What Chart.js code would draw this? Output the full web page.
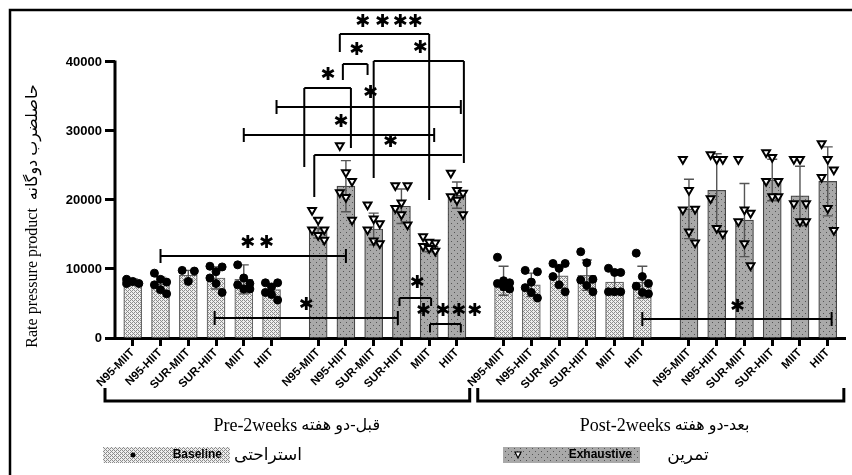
<!DOCTYPE html>
<html>
<head>
<meta charset="utf-8">
<script src="https://cdn.jsdelivr.net/npm/chart.js@4.4.1/dist/chart.umd.min.js"></script>
<style>
  html, body { margin: 0; padding: 0; background: #fff; }
  #wrap { width: 852px; height: 475px; }
</style>
</head>
<body>
<div id="wrap"><canvas id="chart"></canvas></div>
<script>
// DATA
const categories = ['N95-MIIT', 'N95-HIIT', 'SUR-MIIT', 'SUR-HIIT', 'MIIT', 'HIIT'];
const yTicks = [0, 10000, 20000, 30000, 40000];

const preBaseMean = [8100, 7800, 9100, 8700, 8500, 7000];
const preBaseSD = [450, 1000, 700, 1600, 2100, 800];
const preExhMean = [15900, 22000, 15800, 19100, 13300, 20700];
const preExhSD = [1400, 3700, 2300, 2500, 800, 1900];
const postBaseMean = [8300, 7700, 9000, 9100, 8100, 8100];
const postBaseSD = [2100, 1700, 1300, 2200, 1800, 2300];
const postExhMean = [18700, 21400, 17100, 22900, 20600, 22700];
const postExhSD = [4300, 5300, 5300, 3000, 4300, 5000];

const preBasePts = [
    [8500, 8200, 7900, 7900],
    [9400, 8500, 8100, 7700, 7000, 6400],
    [9800, 8200, 9700],
    [10400, 9600, 10300, 8700, 7900, 6600],
    [10600, 8700, 7900, 7700, 7100, 7100],
    [8000, 7400, 8000, 6600, 6300, 5500]
];
const preExhPts = [
    [18500, 17100, 15700, 15700, 14900, 14200],
    [27900, 24000, 22700, 21100, 20400, 17100],
    [19300, 17300, 16600, 15700, 14100, 13700],
    [22100, 19600, 22100, 18800, 17900, 16400],
    [14700, 13900, 13800, 13300, 13000, 12600],
    [23900, 21400, 21000, 20500, 20000, 17900]
];
const postBasePts = [
    [11700, 8300, 8000, 7900, 7400, 7100],
    [9800, 8100, 9600, 7300, 6600, 5800],
    [10800, 10100, 10800, 8900, 7700, 6700],
    [12500, 10900, 8500, 8400, 7600, 6700],
    [10100, 9500, 9500, 6700, 6700, 6700],
    [12300, 8900, 7900, 7500, 6600, 6400]
];
const postExhPts = [
    [25900, 21400, 18700, 18600, 15400, 13800],
    [26600, 25900, 25900, 20200, 15900, 15100],
    [25900, 18600, 18100, 16900, 13700, 10500],
    [26900, 26200, 22700, 22700, 20500, 20500],
    [25900, 25900, 19500, 19500, 16900, 16900],
    [28200, 25900, 24400, 23300, 18800, 15600]
];

// significance marks, in axis units (x = bar slot, y = value)
const brackets = [
    { cap: true, x1: 1.0, x2: 7.68, y: 11900, stars: [4.14, 4.82], sy: 13770 },
    { cap: true, x1: 2.95, x2: 9.55, y: 2900, stars: [6.25], sy: 4780 },
    { x1: 9.61, x2: 10.75, y: 5800, l1: 4640, l2: 4640, stars: [10.25], sy: 7970 },
    { x1: 10.71, x2: 11.82, y: 2030, l1: 800, l2: 800, stars: [10.48, 11.18, 11.75, 12.32], sy: 3910 },
    { x1: 7.46, x2: 10.68, y: 44050, l1: 41440, l2: 20000, stars: [8.29, 9.0, 9.64, 10.18], sy: 45790 },
    { x1: 7.57, x2: 8.46, y: 39700, l1: 37380, l2: 38110, stars: [8.07], sy: 41730 },
    { x1: 8.68, x2: 11.93, y: 40140, l1: 23180, l2: 25360, stars: [10.36], sy: 42020 },
    { x1: 6.18, x2: 7.86, y: 36230, l1: 24780, l2: 27530, stars: [7.04], sy: 38110 },
    { cap: true, x1: 5.18, x2: 11.82, y: 33470, stars: [8.57], sy: 35500 },
    { cap: true, x1: 4.0, x2: 10.86, y: 29410, stars: [7.5], sy: 31300 },
    { x1: 6.54, x2: 11.86, y: 26520, l1: 20430, l2: null, stars: [9.29], sy: 28400 },
    { cap: true, x1: 18.36, x2: 25.18, y: 2750, stars: [21.79], sy: 4490 }
];

// LAYOUT
const GROUP_STEP = 6.68;
const pos = (g, i) => g * GROUP_STEP + i;
const jitter = [-0.22, 0, 0.22];

const tickPositions = [];
const tickLabels = [];
for (let g = 0; g < 4; g++) {
    categories.forEach((c, i) => { tickPositions.push(pos(g, i)); tickLabels.push(c); });
}

function barData(groups) {
    const out = [];
    groups.forEach(([g, arr]) => arr.forEach((v, i) => out.push({ x: pos(g, i), y: v })));
    return out;
}
function pointData(groups) {
    const out = [];
    groups.forEach(([g, arr]) => arr.forEach((vals, i) => {
        vals.forEach((v, k) => out.push({ x: pos(g, i) + jitter[k % 3], y: v }));
    }));
    return out;
}

function makePattern(bg, fg, size, dots) {
    const c = document.createElement('canvas');
    c.width = size; c.height = size;
    const g = c.getContext('2d');
    g.fillStyle = bg; g.fillRect(0, 0, size, size);
    g.fillStyle = fg;
    dots.forEach(([x, y]) => g.fillRect(x, y, 1, 1));
    return g.createPattern(c, 'repeat');
}

const ctx = document.getElementById('chart').getContext('2d');
const basePattern = makePattern('#eeeeee', '#8c8c8c', 4, [[0, 0], [1, 1], [2, 0], [0, 2], [2, 2], [3, 3]]);
const exhPattern = makePattern('#a9a9a9', '#555555', 6, [[1, 1], [4, 4]]);

const serif = "'Liberation Serif', 'DejaVu Sans', serif";

const extras = {
    id: 'extras',
    afterDatasetDraw(chart, args) {
        const ds = chart.data.datasets[args.index];
        if (!ds.sd) return;
        const { ctx, scales: { x, y } } = chart;
        ctx.save();
        ctx.strokeStyle = '#555';
        ctx.lineWidth = 1.4;
        ds.data.forEach((p, i) => {
            const px = x.getPixelForValue(p.x);
            const t = y.getPixelForValue(p.y + ds.sd[i]);
            const b = y.getPixelForValue(p.y - ds.sd[i]);
            ctx.beginPath();
            ctx.moveTo(px, t); ctx.lineTo(px, b);
            ctx.moveTo(px - 5, t); ctx.lineTo(px + 5, t);
            ctx.moveTo(px - 5, b); ctx.lineTo(px + 5, b);
            ctx.stroke();
        });
        ctx.restore();
    },
    afterDraw(chart) {
        const { ctx, chartArea, scales: { x, y } } = chart;
        ctx.save();

        // frame
        ctx.strokeStyle = '#000';
        ctx.lineWidth = 2.5;
        ctx.beginPath();
        ctx.moveTo(10, 475); ctx.lineTo(10, 10); ctx.lineTo(852, 10);
        ctx.stroke();

        // y axis line, 0 to 40000 only
        ctx.lineWidth = 3;
        ctx.beginPath();
        ctx.moveTo(chartArea.left, y.getPixelForValue(0) + 1.5);
        ctx.lineTo(chartArea.left, y.getPixelForValue(40000) - 1.5);
        ctx.stroke();

        // significance brackets
        ctx.lineWidth = 2;
        brackets.forEach(b => {
            const x1 = x.getPixelForValue(b.x1), x2 = x.getPixelForValue(b.x2);
            const py = y.getPixelForValue(b.y);
            ctx.beginPath();
            ctx.moveTo(x1, py); ctx.lineTo(x2, py);
            if (b.cap) {
                ctx.moveTo(x1, py - 7); ctx.lineTo(x1, py + 7);
                ctx.moveTo(x2, py - 7); ctx.lineTo(x2, py + 7);
            } else {
                if (b.l1 != null) { ctx.moveTo(x1, py); ctx.lineTo(x1, y.getPixelForValue(b.l1)); }
                if (b.l2 != null) { ctx.moveTo(x2, py); ctx.lineTo(x2, y.getPixelForValue(b.l2)); }
            }
            ctx.stroke();
            ctx.fillStyle = '#000';
            ctx.font = "bold 18px 'DejaVu Sans'";
            ctx.textAlign = 'center';
            ctx.textBaseline = 'middle';
            b.stars.forEach(sx => ctx.fillText('\u2731', x.getPixelForValue(sx), y.getPixelForValue(b.sy)));
        });

        // group brackets under the axis
        const groupsBelow = [
            { a: -1.0, b: 12.14, latin: 'Pre-2weeks', fa: 'قبل-دو هفته' },
            { a: 12.43, b: 25.62, latin: 'Post-2weeks', fa: 'بعد-دو هفته' }
        ];
        ctx.lineWidth = 3;
        groupsBelow.forEach(gb => {
            const a = x.getPixelForValue(gb.a), b = x.getPixelForValue(gb.b);
            ctx.beginPath();
            ctx.moveTo(a, 388); ctx.lineTo(a, 401); ctx.lineTo(b, 401); ctx.lineTo(b, 388);
            ctx.stroke();
            const mid = (a + b) / 2 + 10;
            ctx.font = "18px " + serif;
            ctx.textBaseline = 'middle';
            ctx.textAlign = 'right';
            ctx.fillText(gb.latin, mid, 426);
            ctx.textAlign = 'left';
            ctx.font = "16px " + serif;
            ctx.fillText(gb.fa, mid + 4, 426);
        });

        // legend
        const legendItems = [
            { x0: 103, x1: 230, fill: basePattern, label: 'Baseline', fa: 'استراحتی', fax: 268, circle: true },
            { x0: 503, x1: 640, fill: exhPattern, label: 'Exhaustive', fa: 'تمرین', fax: 688, circle: false }
        ];
        legendItems.forEach(it => {
            ctx.fillStyle = it.fill;
            ctx.fillRect(it.x0, 447, it.x1 - it.x0, 16);
            ctx.fillStyle = '#000';
            ctx.font = "bold 12px 'Liberation Sans'";
            ctx.textAlign = 'right';
            ctx.textBaseline = 'middle';
            ctx.fillText(it.label, it.x1 - 8, 455);
            if (it.circle) {
                ctx.beginPath(); ctx.arc(it.x0 + 30, 455, 2.5, 0, Math.PI * 2); ctx.fill();
            } else {
                ctx.beginPath();
                ctx.moveTo(it.x0 + 12, 452); ctx.lineTo(it.x0 + 18, 452); ctx.lineTo(it.x0 + 15, 458); ctx.closePath();
                ctx.fillStyle = '#fff'; ctx.fill();
                ctx.strokeStyle = '#000'; ctx.lineWidth = 1.2; ctx.stroke();
            }
            ctx.fillStyle = '#000';
            ctx.font = "17px " + serif;
            ctx.textAlign = 'center';
            ctx.fillText(it.fa, it.fax, 456);
        });

        // y axis title
        ctx.save();
        ctx.translate(33, 216);
        ctx.rotate(-Math.PI / 2);
        ctx.font = "16px " + serif;
        ctx.textAlign = 'center';
        ctx.textBaseline = 'middle';
        ctx.fillText('Rate pressure product  حاصلضرب دوگانه', 0, 0);
        ctx.restore();

        ctx.restore();
    }
};

new Chart(ctx, {
    type: 'bar',
    data: {
        datasets: [
            {
                type: 'scatter',
                data: pointData([[0, preBasePts], [2, postBasePts]]),
                pointStyle: 'circle',
                pointRadius: 4,
                backgroundColor: '#000',
                borderColor: '#000',
                order: 1
            },
            {
                type: 'scatter',
                data: pointData([[1, preExhPts], [3, postExhPts]]),
                pointStyle: 'triangle',
                rotation: 180,
                pointRadius: 4.5,
                backgroundColor: '#fff',
                borderColor: '#000',
                borderWidth: 2,
                order: 1
            },
            {
                data: barData([[0, preBaseMean], [2, postBaseMean]]),
                sd: preBaseSD.concat(postBaseSD),
                backgroundColor: basePattern,
                borderColor: '#666',
                borderWidth: 1.2,
                barThickness: 18,
                grouped: false,
                order: 2
            },
            {
                data: barData([[1, preExhMean], [3, postExhMean]]),
                sd: preExhSD.concat(postExhSD),
                backgroundColor: exhPattern,
                borderColor: '#444',
                borderWidth: 1.2,
                barThickness: 18,
                grouped: false,
                order: 2
            }
        ]
    },
    options: {
        responsive: true,
        maintainAspectRatio: false,
        animation: false,
        layout: { padding: { top: 13, left: 0, right: 0, bottom: 0 } },
        plugins: { legend: { display: false }, tooltip: { enabled: false } },
        scales: {
            x: {
                type: 'linear',
                offset: false,
                min: -0.64,
                max: 25.68,
                afterBuildTicks: (scale) => { scale.ticks = tickPositions.map(v => ({ value: v })); },
                afterFit: (scale) => { scale.height = 137; },
                ticks: {
                    autoSkip: false,
                    minRotation: 45,
                    maxRotation: 45,
                    padding: 0,
                    color: '#000',
                    font: { family: "'Liberation Sans'", size: 11.5, weight: 'bold' },
                    callback: (v, i) => tickLabels[i]
                },
                grid: { display: true, offset: false, drawOnChartArea: false, drawTicks: true, tickLength: 8, tickWidth: 3, tickColor: '#000' },
                border: { display: true, width: 3, color: '#000' }
            },
            y: {
                min: 0,
                max: 47100,
                afterBuildTicks: (scale) => { scale.ticks = yTicks.map(v => ({ value: v })); },
                afterFit: (scale) => { scale.width = 115; },
                ticks: {
                    padding: 3,
                    color: '#000',
                    font: { family: "'Liberation Sans'", size: 13, weight: 'bold' },
                    callback: (v) => String(v)
                },
                grid: { display: true, drawOnChartArea: false, drawTicks: true, tickLength: 10, tickWidth: 3, tickColor: '#000' },
                border: { display: false }
            }
        }
    },
    plugins: [extras]
});
</script>
</body>
</html>
